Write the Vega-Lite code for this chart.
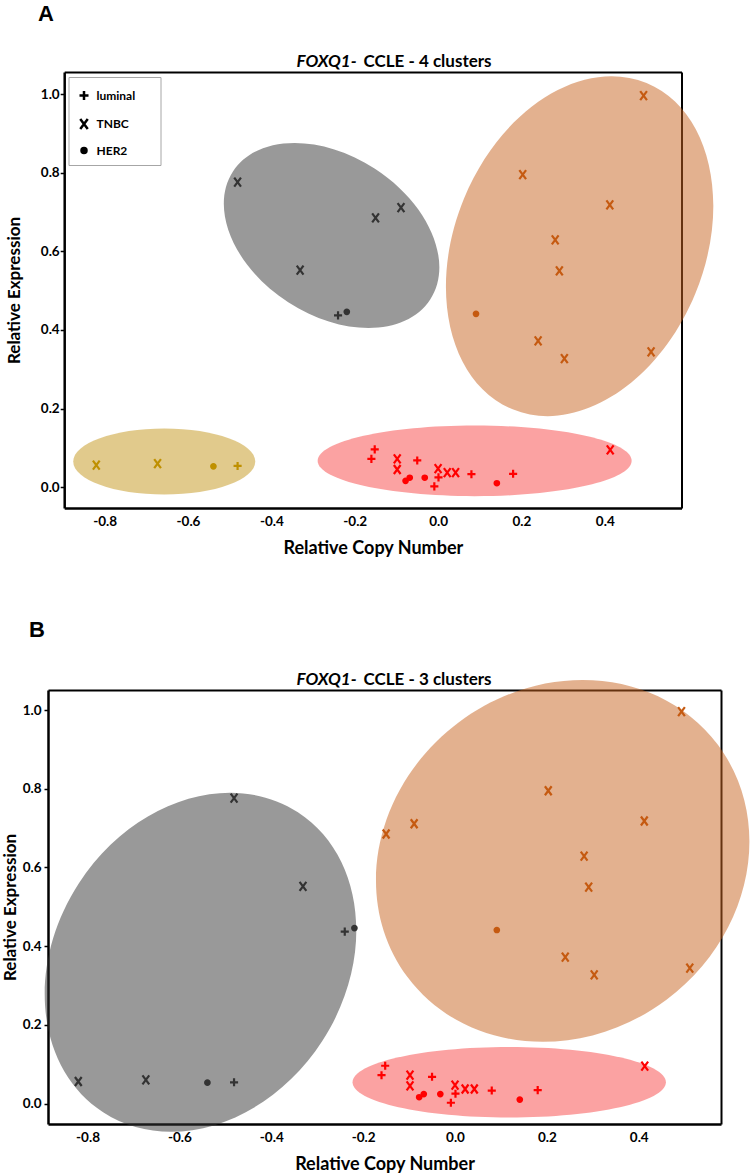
{
  "$schema": "https://vega.github.io/schema/vega-lite/v6.json",
  "background": "white",
  "padding": {"left": 1, "top": 3, "right": 0, "bottom": 0},
  "spacing": 61,
  "config": {
    "view": {"stroke": null},
    "font": "Lato",
    "axis": {"grid": false, "labelFont": "Lato", "titleFont": "Lato", "labelColor": "black", "titleColor": "black", "labelFontWeight": "bold", "titleFontWeight": "bold", "domainColor": "black", "tickColor": "black", "zindex": 0},
    "legend": {"labelFont": "Lato"}
  },
  "datasets": {
    "points": [
      {"x": -0.481, "y": 0.776, "t": "TNBC", "ca": "gray", "cb": "gray"},
      {"x": -0.089, "y": 0.711, "t": "TNBC", "ca": "gray", "cb": "orange"},
      {"x": -0.150, "y": 0.685, "t": "TNBC", "ca": "gray", "cb": "orange"},
      {"x": -0.331, "y": 0.552, "t": "TNBC", "ca": "gray", "cb": "gray"},
      {"x": -0.240, "y": 0.437, "t": "luminal", "ca": "gray", "cb": "gray"},
      {"x": -0.219, "y": 0.446, "t": "HER2", "ca": "gray", "cb": "gray"},
      {"x": 0.493, "y": 0.996, "t": "TNBC", "ca": "orange", "cb": "orange"},
      {"x": 0.203, "y": 0.795, "t": "TNBC", "ca": "orange", "cb": "orange"},
      {"x": 0.412, "y": 0.718, "t": "TNBC", "ca": "orange", "cb": "orange"},
      {"x": 0.281, "y": 0.629, "t": "TNBC", "ca": "orange", "cb": "orange"},
      {"x": 0.291, "y": 0.550, "t": "TNBC", "ca": "orange", "cb": "orange"},
      {"x": 0.091, "y": 0.441, "t": "HER2", "ca": "orange", "cb": "orange"},
      {"x": 0.240, "y": 0.372, "t": "TNBC", "ca": "orange", "cb": "orange"},
      {"x": 0.303, "y": 0.327, "t": "TNBC", "ca": "orange", "cb": "orange"},
      {"x": 0.511, "y": 0.344, "t": "TNBC", "ca": "orange", "cb": "orange"},
      {"x": -0.820, "y": 0.056, "t": "TNBC", "ca": "yellow", "cb": "gray"},
      {"x": -0.673, "y": 0.060, "t": "TNBC", "ca": "yellow", "cb": "gray"},
      {"x": -0.539, "y": 0.053, "t": "HER2", "ca": "yellow", "cb": "gray"},
      {"x": -0.481, "y": 0.054, "t": "luminal", "ca": "yellow", "cb": "gray"},
      {"x": -0.152, "y": 0.096, "t": "luminal", "ca": "red", "cb": "red"},
      {"x": -0.160, "y": 0.072, "t": "luminal", "ca": "red", "cb": "red"},
      {"x": -0.098, "y": 0.072, "t": "TNBC", "ca": "red", "cb": "red"},
      {"x": -0.098, "y": 0.045, "t": "TNBC", "ca": "red", "cb": "red"},
      {"x": -0.050, "y": 0.068, "t": "luminal", "ca": "red", "cb": "red"},
      {"x": -0.078, "y": 0.016, "t": "HER2", "ca": "red", "cb": "red"},
      {"x": -0.068, "y": 0.024, "t": "HER2", "ca": "red", "cb": "red"},
      {"x": -0.032, "y": 0.024, "t": "HER2", "ca": "red", "cb": "red"},
      {"x": -0.009, "y": 0.002, "t": "luminal", "ca": "red", "cb": "red"},
      {"x": 0.000, "y": 0.047, "t": "TNBC", "ca": "red", "cb": "red"},
      {"x": 0.001, "y": 0.025, "t": "luminal", "ca": "red", "cb": "red"},
      {"x": 0.022, "y": 0.037, "t": "TNBC", "ca": "red", "cb": "red"},
      {"x": 0.042, "y": 0.037, "t": "TNBC", "ca": "red", "cb": "red"},
      {"x": 0.080, "y": 0.033, "t": "luminal", "ca": "red", "cb": "red"},
      {"x": 0.141, "y": 0.010, "t": "HER2", "ca": "red", "cb": "red"},
      {"x": 0.180, "y": 0.034, "t": "luminal", "ca": "red", "cb": "red"},
      {"x": 0.413, "y": 0.095, "t": "TNBC", "ca": "red", "cb": "red"}
    ],
    "centersA": [
      {"c": "gray", "x": -0.2555, "y": 0.640},
      {"c": "orange", "x": 0.3396, "y": 0.613},
      {"c": "yellow", "x": -0.657, "y": 0.0654},
      {"c": "red", "x": 0.0877, "y": 0.0669}
    ],
    "centersB": [
      {"c": "gray", "x": -0.554, "y": 0.359},
      {"c": "orange", "x": 0.2344, "y": 0.6165},
      {"c": "red", "x": 0.118, "y": 0.0544}
    ]
  },
  "vconcat": [
    {
      "width": 633.5,
      "height": 436,
      "title": {"text": "A", "anchor": "start", "frame": "group", "dx": -10, "offset": 26, "font": "Liberation Sans", "fontSize": 22, "fontWeight": "bold", "color": "black"},
      "resolve": {"axis": {"x": "independent", "y": "independent"}},
      "layer": [
        {
          "data": {"name": "centersA"},
          "transform": [{"filter": "datum.c == 'gray'"}],
          "mark": {"type": "point", "shape": "M-1,0A1,0.677,0,1,0,1,0A1,0.677,0,1,0,-1,0Z", "size": 55320, "angle": 33, "filled": true, "color": "#333333", "opacity": 0.5, "strokeWidth": 0},
          "encoding": {
            "x": {"field": "x", "type": "quantitative", "scale": {"domain": [-0.897, 0.584], "range": [16.2, 633.5], "nice": false, "zero": false}, "axis": null},
            "y": {"field": "y", "type": "quantitative", "scale": {"domain": [-0.053, 1.056], "nice": false, "zero": false}, "axis": null}
          }
        },
        {
          "data": {"name": "centersA"},
          "transform": [{"filter": "datum.c == 'orange'"}],
          "mark": {"type": "point", "shape": "M-1,0A1,0.709,0,1,0,1,0A1,0.709,0,1,0,-1,0Z", "size": 124467, "angle": 292.3, "filled": true, "color": "#C8631F", "opacity": 0.5, "strokeWidth": 0},
          "encoding": {
            "x": {"field": "x", "type": "quantitative", "scale": {"domain": [-0.897, 0.584], "range": [16.2, 633.5], "nice": false, "zero": false}, "axis": null},
            "y": {"field": "y", "type": "quantitative", "scale": {"domain": [-0.053, 1.056], "nice": false, "zero": false}, "axis": null}
          }
        },
        {
          "data": {"name": "centersA"},
          "transform": [{"filter": "datum.c == 'yellow'"}],
          "mark": {"type": "point", "shape": "M-1,0A1,0.363,0,1,0,1,0A1,0.363,0,1,0,-1,0Z", "size": 33124, "angle": 0, "filled": true, "color": "#C4951A", "opacity": 0.5, "strokeWidth": 0},
          "encoding": {
            "x": {"field": "x", "type": "quantitative", "scale": {"domain": [-0.897, 0.584], "range": [16.2, 633.5], "nice": false, "zero": false}, "axis": null},
            "y": {"field": "y", "type": "quantitative", "scale": {"domain": [-0.053, 1.056], "nice": false, "zero": false}, "axis": null}
          }
        },
        {
          "data": {"name": "centersA"},
          "transform": [{"filter": "datum.c == 'red'"}],
          "mark": {"type": "point", "shape": "M-1,0A1,0.225,0,1,0,1,0A1,0.225,0,1,0,-1,0Z", "size": 98596, "angle": 0, "filled": true, "color": "#F74545", "opacity": 0.5, "strokeWidth": 0},
          "encoding": {
            "x": {"field": "x", "type": "quantitative", "scale": {"domain": [-0.897, 0.584], "range": [16.2, 633.5], "nice": false, "zero": false}, "axis": null},
            "y": {"field": "y", "type": "quantitative", "scale": {"domain": [-0.053, 1.056], "nice": false, "zero": false}, "axis": null}
          }
        },
        {
          "data": {"name": "points"},
          "mark": {"type": "point", "opacity": 0},
          "encoding": {
            "x": {"field": "x", "type": "quantitative", "scale": {"domain": [-0.897, 0.584], "range": [16.2, 633.5], "nice": false, "zero": false},
              "axis": {"orient": "top", "labels": false, "ticks": false, "domainWidth": 2, "title": "FOXQ1-", "titleFontStyle": "italic", "titleFontSize": 17, "titleX": 248, "titleY": -6, "titleAlign": "left", "titleBaseline": "alphabetic", "titleAngle": 0}},
            "y": {"field": "y", "type": "quantitative", "scale": {"domain": [-0.053, 1.056], "nice": false, "zero": false},
              "axis": {"orient": "right", "labels": false, "ticks": false, "domainWidth": 2, "title": "CCLE - 4 clusters", "titleFontSize": 17, "titleAngle": 0, "titleX": -318.5, "titleY": -6, "titleAlign": "left", "titleBaseline": "alphabetic"}}
          }
        },
        {
          "data": {"name": "points"},
          "mark": {"type": "point", "filled": true, "strokeWidth": 2.2, "size": 81, "opacity": 1},
          "encoding": {
            "x": {"field": "x", "type": "quantitative", "scale": {"domain": [-0.897, 0.584], "range": [16.2, 633.5], "nice": false, "zero": false},
              "axis": {"orient": "bottom", "values": [-0.8, -0.6, -0.4, -0.2, 0, 0.2, 0.4], "labelExpr": "datum.value < 0 ? '-' + format(-datum.value, '.1f') : format(datum.value, '.1f')", "ticks": false, "domainWidth": 2.5, "labelPadding": 6, "labelFontSize": 13.5, "title": "Relative Copy Number", "titleFontSize": 18, "titlePadding": 12}},
            "y": {"field": "y", "type": "quantitative", "scale": {"domain": [-0.053, 1.056], "nice": false, "zero": false},
              "axis": {"orient": "left", "offset": -16.2, "values": [0, 0.2, 0.4, 0.6, 0.8, 1.0], "format": ".1f", "tickSize": 4, "tickWidth": 1.5, "domainWidth": 2.5, "labelPadding": 1, "labelFontSize": 13.5, "title": "Relative Expression", "titleFontSize": 17, "titlePadding": 17}},
            "shape": {"field": "t", "type": "nominal", "scale": {"domain": ["luminal", "TNBC", "HER2"], "range": ["M-0.9,0L0.9,0M0,-0.9L0,0.9", "M-0.75,-1L0.75,1M0.75,-1L-0.75,1", "M-0.5,0A0.5,0.5,0,1,0,0.5,0A0.5,0.5,0,1,0,-0.5,0Z"]},
              "legend": {"orient": "none", "legendX": 20.5, "legendY": 5, "title": "\u00a0", "titleFontSize": 2, "titlePadding": 3, "padding": 7, "symbolOffset": 2, "rowPadding": 8.5, "symbolSize": 100, "symbolStrokeWidth": 2.5, "symbolFillColor": "black", "symbolStrokeColor": "black", "labelFontSize": 12, "labelFontWeight": "bold", "labelColor": "black", "labelOffset": 6, "labelExpr": "datum.label + '\u00a0\u00a0\u00a0\u00a0\u00a0\u00a0\u200b'", "strokeColor": "#a6a6a6", "fillColor": "white"}},
            "fill": {"field": "ca", "type": "nominal", "scale": {"domain": ["gray", "orange", "yellow", "red"], "range": ["#333333", "#C55A11", "#BF9000", "#FF0000"]}, "legend": null},
            "stroke": {"field": "ca", "type": "nominal", "scale": {"domain": ["gray", "orange", "yellow", "red"], "range": ["#333333", "#C55A11", "#BF9000", "#FF0000"]}, "legend": null}
          }
        }
      ]
    },
    {
      "width": 673,
      "height": 434,
      "title": {"text": "B", "anchor": "start", "frame": "group", "dx": -19, "offset": 28, "font": "Liberation Sans", "fontSize": 22, "fontWeight": "bold", "color": "black"},
      "resolve": {"axis": {"x": "independent", "y": "independent"}},
      "layer": [
        {
          "data": {"name": "centersB"},
          "transform": [{"filter": "datum.c == 'gray'"}],
          "mark": {"type": "point", "shape": "M-1,0A1,0.811,0,1,0,1,0A1,0.811,0,1,0,-1,0Z", "size": 127877, "angle": 303, "filled": true, "color": "#333333", "opacity": 0.5, "strokeWidth": 0},
          "encoding": {
            "x": {"field": "x", "type": "quantitative", "scale": {"domain": [-0.886, 0.579], "nice": false, "zero": false}, "axis": null},
            "y": {"field": "y", "type": "quantitative", "scale": {"domain": [-0.052, 1.051], "nice": false, "zero": false}, "axis": null}
          }
        },
        {
          "data": {"name": "centersB"},
          "transform": [{"filter": "datum.c == 'orange'"}],
          "mark": {"type": "point", "shape": "M-1,0A1,0.894,0,1,0,1,0A1,0.894,0,1,0,-1,0Z", "size": 150234, "angle": 323.2, "filled": true, "color": "#C8631F", "opacity": 0.5, "strokeWidth": 0},
          "encoding": {
            "x": {"field": "x", "type": "quantitative", "scale": {"domain": [-0.886, 0.579], "nice": false, "zero": false}, "axis": null},
            "y": {"field": "y", "type": "quantitative", "scale": {"domain": [-0.052, 1.051], "nice": false, "zero": false}, "axis": null}
          }
        },
        {
          "data": {"name": "centersB"},
          "transform": [{"filter": "datum.c == 'red'"}],
          "mark": {"type": "point", "shape": "M-1,0A1,0.225,0,1,0,1,0A1,0.225,0,1,0,-1,0Z", "size": 98219, "angle": 0, "filled": true, "color": "#F74545", "opacity": 0.5, "strokeWidth": 0},
          "encoding": {
            "x": {"field": "x", "type": "quantitative", "scale": {"domain": [-0.886, 0.579], "nice": false, "zero": false}, "axis": null},
            "y": {"field": "y", "type": "quantitative", "scale": {"domain": [-0.052, 1.051], "nice": false, "zero": false}, "axis": null}
          }
        },
        {
          "data": {"name": "points"},
          "mark": {"type": "point", "opacity": 0},
          "encoding": {
            "x": {"field": "x", "type": "quantitative", "scale": {"domain": [-0.886, 0.579], "nice": false, "zero": false},
              "axis": {"orient": "top", "labels": false, "ticks": false, "domainWidth": 2, "title": "FOXQ1-", "titleFontStyle": "italic", "titleFontSize": 17, "titleX": 248, "titleY": -6, "titleAlign": "left", "titleBaseline": "alphabetic", "titleAngle": 0}},
            "y": {"field": "y", "type": "quantitative", "scale": {"domain": [-0.052, 1.051], "nice": false, "zero": false},
              "axis": {"orient": "right", "labels": false, "ticks": false, "domainWidth": 2, "title": "CCLE - 3 clusters", "titleFontSize": 17, "titleAngle": 0, "titleX": -358, "titleY": -6, "titleAlign": "left", "titleBaseline": "alphabetic"}}
          }
        },
        {
          "data": {"name": "points"},
          "mark": {"type": "point", "filled": true, "strokeWidth": 2.2, "size": 81, "opacity": 1},
          "encoding": {
            "x": {"field": "x", "type": "quantitative", "scale": {"domain": [-0.886, 0.579], "nice": false, "zero": false},
              "axis": {"orient": "bottom", "values": [-0.8, -0.6, -0.4, -0.2, 0, 0.2, 0.4], "labelExpr": "datum.value < 0 ? '-' + format(-datum.value, '.1f') : format(datum.value, '.1f')", "ticks": false, "domainWidth": 2.5, "labelPadding": 6, "labelFontSize": 13.5, "title": "Relative Copy Number", "titleFontSize": 18, "titlePadding": 12}},
            "y": {"field": "y", "type": "quantitative", "scale": {"domain": [-0.052, 1.051], "nice": false, "zero": false},
              "axis": {"orient": "left", "values": [0, 0.2, 0.4, 0.6, 0.8, 1.0], "format": ".1f", "tickSize": 4, "tickWidth": 1.5, "domainWidth": 2.5, "labelPadding": 3, "labelFontSize": 13.5, "title": "Relative Expression", "titleFontSize": 17, "titlePadding": 3}},
            "shape": {"field": "t", "type": "nominal", "scale": {"domain": ["luminal", "TNBC", "HER2"], "range": ["M-0.9,0L0.9,0M0,-0.9L0,0.9", "M-0.75,-1L0.75,1M0.75,-1L-0.75,1", "M-0.5,0A0.5,0.5,0,1,0,0.5,0A0.5,0.5,0,1,0,-0.5,0Z"]},
              "legend": {"orient": "none", "legendX": 3.5, "legendY": 4, "title": "\u00a0", "titleFontSize": 2, "titlePadding": 3, "padding": 7, "symbolOffset": 2, "rowPadding": 8.5, "symbolSize": 100, "symbolStrokeWidth": 2.5, "symbolFillColor": "black", "symbolStrokeColor": "black", "labelFontSize": 12, "labelFontWeight": "bold", "labelColor": "black", "labelOffset": 6, "labelExpr": "datum.label + '\u00a0\u00a0\u00a0\u00a0\u00a0\u00a0\u200b'", "strokeColor": "#a6a6a6", "fillColor": "white"}},
            "fill": {"field": "cb", "type": "nominal", "scale": {"domain": ["gray", "orange", "red"], "range": ["#333333", "#C55A11", "#FF0000"]}, "legend": null},
            "stroke": {"field": "cb", "type": "nominal", "scale": {"domain": ["gray", "orange", "red"], "range": ["#333333", "#C55A11", "#FF0000"]}, "legend": null}
          }
        }
      ]
    }
  ]
}
